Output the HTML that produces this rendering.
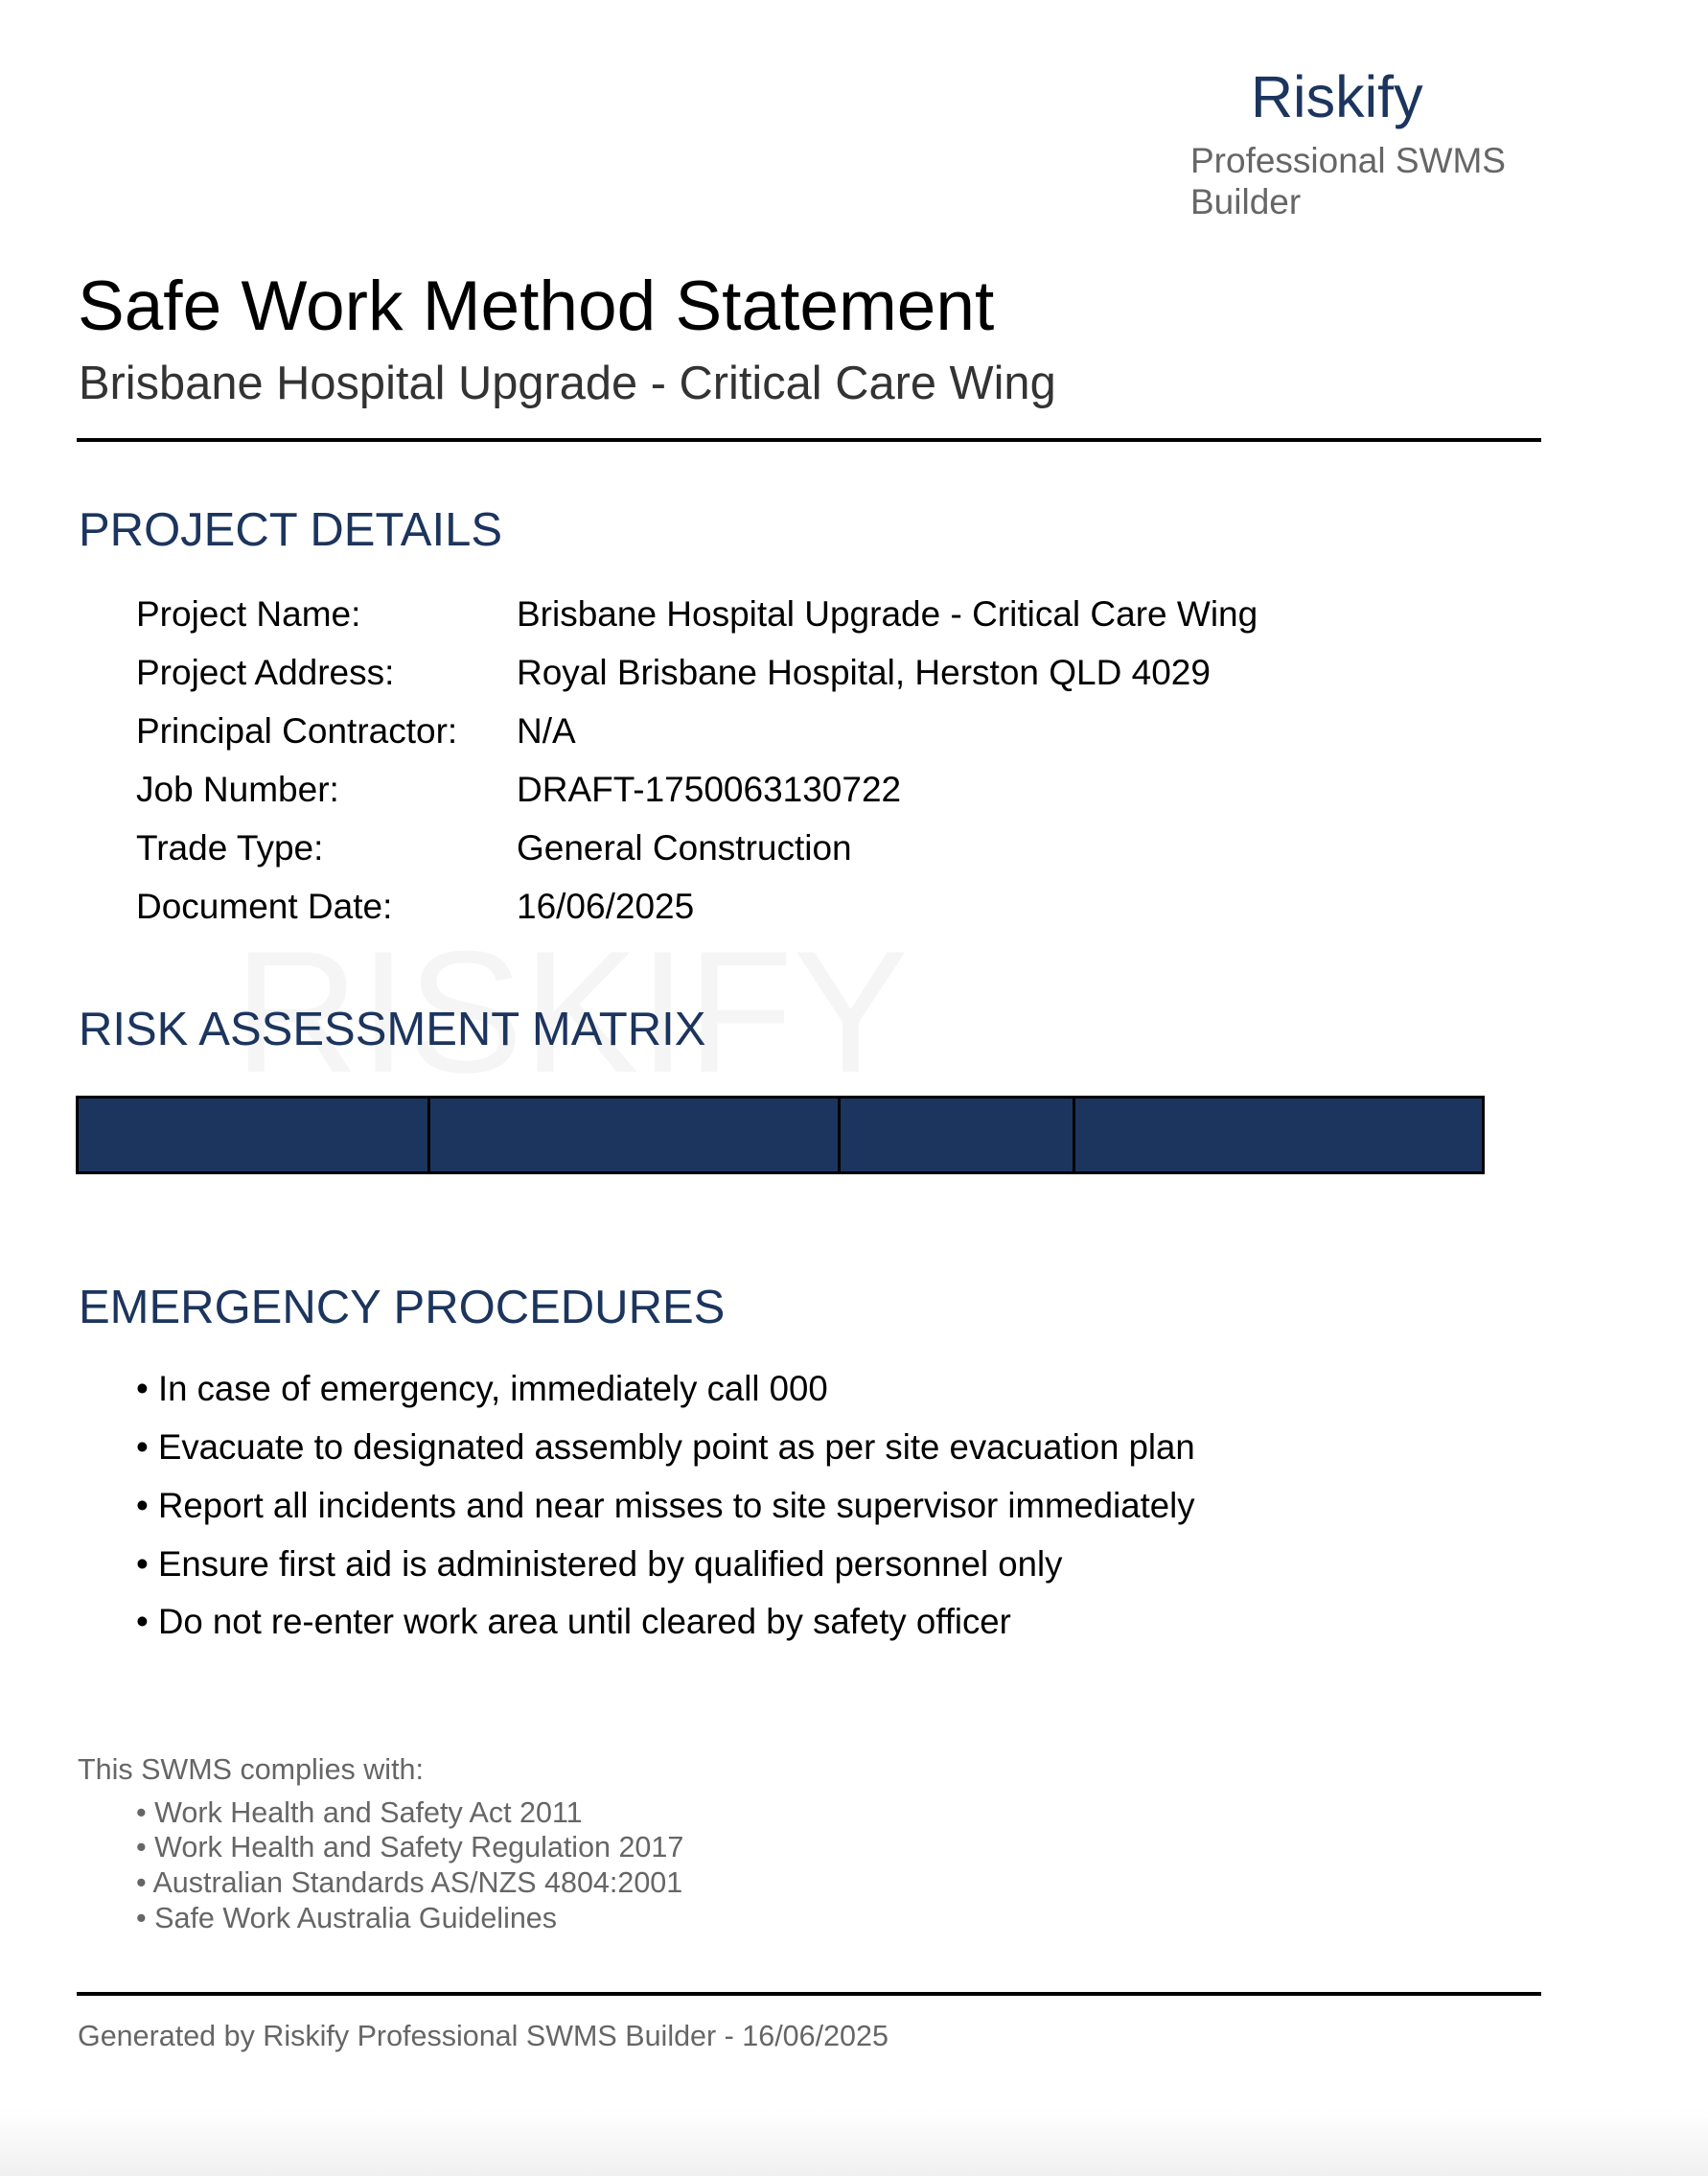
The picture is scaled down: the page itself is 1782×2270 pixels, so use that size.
<!DOCTYPE html>
<html><head><meta charset="utf-8"><style>
body{margin:0;width:1782px;height:2270px;position:relative;background:#fff;font-family:"Liberation Sans",Arial,sans-serif;overflow:hidden}
.a{position:absolute;white-space:nowrap;line-height:1}
.h{color:#1c355e;font-size:49px}
.row{font-size:37px;color:#000}
.li{font-size:36.6px;color:#000}
.c{font-size:30.5px;color:#666}
</style></head><body>
<div class="a" style="left:244px;top:966px;font-size:181px;color:#f5f5f5">RISKIFY</div>
<div class="a" style="left:1305px;top:71px;font-size:61px;color:#1c355e">Riskify</div>
<div class="a" style="left:1242px;top:146px;font-size:37px;color:#666;line-height:43px;white-space:normal;width:340px">Professional SWMS Builder</div>
<div class="a" style="left:81px;top:283px;font-size:73px;color:#000">Safe Work Method Statement</div>
<div class="a" style="left:82px;top:376px;font-size:48.8px;color:#333">Brisbane Hospital Upgrade - Critical Care Wing</div>
<div class="a" style="left:80px;top:457px;width:1528px;height:4px;background:#000"></div>
<div class="a h" style="left:82px;top:529px">PROJECT DETAILS</div>
<div>
<div class="a row" style="left:142px;top:622px">Project Name:</div><div class="a row" style="left:539px;top:622px">Brisbane Hospital Upgrade - Critical Care Wing</div>
<div class="a row" style="left:142px;top:683px">Project Address:</div><div class="a row" style="left:539px;top:683px">Royal Brisbane Hospital, Herston QLD 4029</div>
<div class="a row" style="left:142px;top:744px">Principal Contractor:</div><div class="a row" style="left:539px;top:744px">N/A</div>
<div class="a row" style="left:142px;top:805px">Job Number:</div><div class="a row" style="left:539px;top:805px">DRAFT-1750063130722</div>
<div class="a row" style="left:142px;top:866px">Trade Type:</div><div class="a row" style="left:539px;top:866px">General Construction</div>
<div class="a row" style="left:142px;top:927px">Document Date:</div><div class="a row" style="left:539px;top:927px">16/06/2025</div>
</div>
<div class="a h" style="left:82px;top:1050px">RISK ASSESSMENT MATRIX</div>
<div class="a" style="left:79px;top:1143px;width:1470px;height:82px;background:#1c355e;border:3px solid #000;box-sizing:border-box">
<div class="a" style="left:364px;top:0;width:3px;height:100%;background:#000"></div>
<div class="a" style="left:792px;top:0;width:3px;height:100%;background:#000"></div>
<div class="a" style="left:1037px;top:0;width:3px;height:100%;background:#000"></div>
</div>
<div class="a h" style="left:82px;top:1340px">EMERGENCY PROCEDURES</div>
<div>
<div class="a li" style="left:142px;top:1431px">• In case of emergency, immediately call 000</div>
<div class="a li" style="left:142px;top:1492px">• Evacuate to designated assembly point as per site evacuation plan</div>
<div class="a li" style="left:142px;top:1553px">• Report all incidents and near misses to site supervisor immediately</div>
<div class="a li" style="left:142px;top:1614px">• Ensure first aid is administered by qualified personnel only</div>
<div class="a li" style="left:142px;top:1674px">• Do not re-enter work area until cleared by safety officer</div>
</div>
<div class="a c" style="left:81px;top:1831px">This SWMS complies with:</div>
<div>
<div class="a c" style="left:142px;top:1876px">• Work Health and Safety Act 2011</div>
<div class="a c" style="left:142px;top:1912px">• Work Health and Safety Regulation 2017</div>
<div class="a c" style="left:142px;top:1949px">• Australian Standards AS/NZS 4804:2001</div>
<div class="a c" style="left:142px;top:1986px">• Safe Work Australia Guidelines</div>
</div>
<div class="a" style="left:80px;top:2078px;width:1528px;height:4px;background:#000"></div>
<div class="a c" style="left:81px;top:2109px">Generated by Riskify Professional SWMS Builder - 16/06/2025</div>
<div class="a" style="left:0;top:2200px;width:1782px;height:70px;background:linear-gradient(#fff,#f0f0f0)"></div>
</body></html>
